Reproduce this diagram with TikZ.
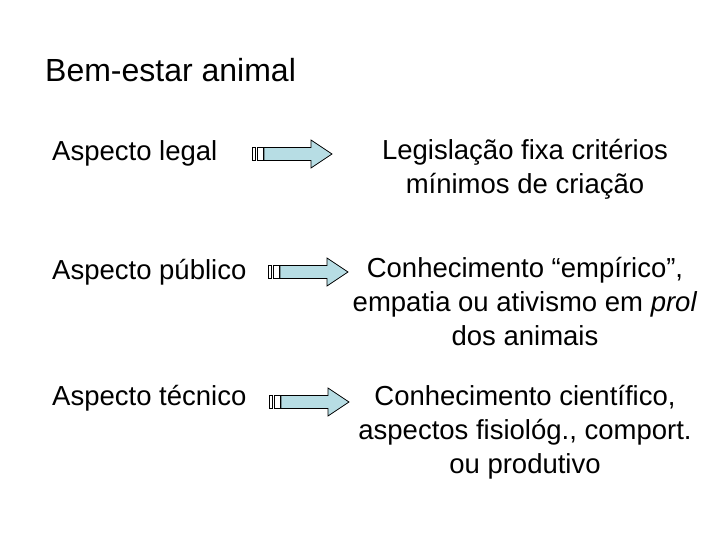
\documentclass[tikz,border=0pt]{standalone}
\usepackage{fontspec}
\setmainfont{Liberation Sans}
\usetikzlibrary{positioning}
\definecolor{arrowfill}{RGB}{183,221,228}

\tikzset{
  label/.style={font=\fontsize{27.5}{34}\selectfont, inner sep=0pt},
  result/.style={label, align=center},
  stripearrow/.pic={
    \draw[thick, fill=white] (0,-6.5) rectangle (3,6.5);
    \draw[thick, fill=white] (5,-6.5) rectangle (11,6.5);
    \draw[thick, fill=arrowfill] (12,-6.5) -- (59,-6.5) -- (59,-14) -- (80,0)
      -- (59,14) -- (59,6.5) -- (12,6.5) -- cycle;
  }
}

\begin{document}
\begin{tikzpicture}[x=1pt, y=-1pt]
\useasboundingbox (0,0) rectangle (720,540);
% titulo
\node[label, font=\fontsize{32}{38}\selectfont, anchor=west] (title) at (45,70) {Bem-estar animal};
% aspectos
\node[label, anchor=west] (legal) at (52,153) {Aspecto legal};
\node[label, anchor=west] (publico) at (52,272) {Aspecto público};
\node[label, anchor=west] (tecnico) at (52,398) {Aspecto técnico};
% setas
\pic at (252,154) {stripearrow};
\pic at (268,272) {stripearrow};
\pic at (269,402) {stripearrow};
% descricoes
\node[result] (lei) at (525,169) {Legislação fixa critérios\\mínimos de criação};
\node[result] (empirico) at (525,302) {Conhecimento “empírico”,\\empatia ou ativismo em \textit{prol}\\dos animais};
\node[result] (cientifico) at (525,432) {Conhecimento científico,\\aspectos fisiológ., comport.\\ou produtivo};
\end{tikzpicture}
\end{document}
